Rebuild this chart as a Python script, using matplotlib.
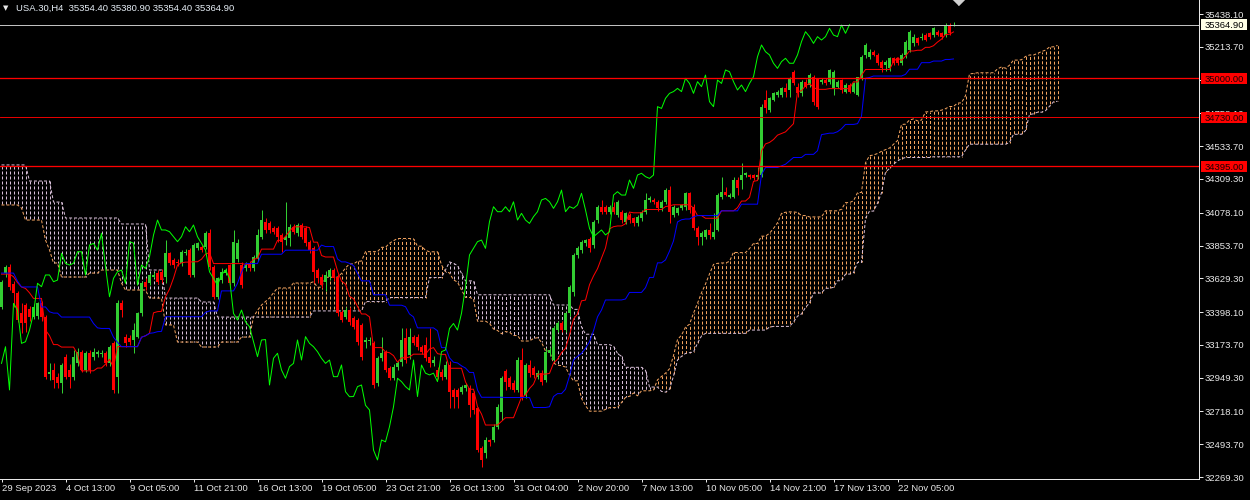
import numpy as np
import pandas as pd
import matplotlib
matplotlib.use("Agg")
import matplotlib.pyplot as plt
from matplotlib.patches import Rectangle
from matplotlib.transforms import blended_transform_factory

plt.rcParams['font.family'] = ['Liberation Sans', 'DejaVu Sans']

# USA.30 H4 candles (bar 0 = 29 Sep 2023)
opens = [
    33435, 33668, 33709, 33590, 33526, 33389, 33446, 33420, 33367, 33370,
    33458, 33367, 32975, 33002, 32956, 32911, 33093, 33002, 32956, 33047,
    33127, 33002, 33116, 33093, 33110, 33114, 33116, 33047, 33184, 32956,
    33458, 33230, 33218, 33207, 33230, 33389, 33606, 33595, 33640, 33663,
    33675, 33640, 33800, 33754, 33743, 33732, 33800, 33823, 33652, 33834,
    33846, 33846, 33937, 33709, 33503, 33617, 33663, 33720, 33595, 33760,
    33720, 33697, 33731, 33697, 33766, 33914, 34017, 34005, 33971, 33971,
    33925, 33891, 33903, 33982, 33937, 33994, 33971, 33880, 33834, 33686,
    33640, 33606, 33640, 33686, 33640, 33401, 33367, 33412, 33355, 33344,
    33310, 33195, 33200, 33184, 32911, 33082, 33127, 33013, 32945, 33025,
    33059, 33218, 33104, 33230, 33230, 33161, 33173, 33093, 33047, 33002,
    32990, 32956, 33036, 32865, 32865, 32853, 32876, 32880, 32842, 32740,
    32466, 32432, 32523, 32523, 32614, 32717, 32998, 32945, 32910, 32865,
    33070, 32830, 33036, 33013, 32956, 32980, 32930, 33116, 33070, 33275,
    33320, 33275, 33390, 33538, 33789, 33823, 33869, 33896, 33857, 34028,
    34119, 34119, 34085, 34119, 34062, 34085, 34017, 34062, 34040, 34005,
    34040, 34085, 34165, 34165, 34153, 34108, 34153, 34233, 34063, 34074,
    34108, 34120, 34211, 34120, 33971, 33914, 33914, 33960, 33914, 33960,
    34188, 34222, 34188, 34188, 34302, 34302, 34336, 34336, 34336, 34325,
    34336, 34850, 34781, 34850, 34884, 34884, 34929, 34918, 35043, 34941,
    34895, 34975, 34952, 35009, 34998, 34975, 34986, 34975, 34929, 34941,
    34986, 34907, 34952, 34907, 34884, 34998, 35158, 35146, 35180, 35158,
    35112, 35090, 35066, 35135, 35135, 35101, 35158, 35192, 35237, 35272,
    35272, 35294, 35306, 35294, 35317, 35306, 35294, 35363, 35354.4,
]
highs = [
    33620, 33720, 33730, 33610, 33540, 33458, 33458, 33440, 33450, 33470,
    33475, 33380, 33047, 33047, 32979, 33047, 33110, 33040, 33139, 33150,
    33139, 33130, 33139, 33150, 33139, 33139, 33130, 33170, 33200, 33481,
    33481, 33250, 33240, 33321, 33400, 33610, 33630, 33663, 33670, 33686,
    33690, 33890, 33810, 33770, 33760, 33820, 33830, 33835, 33870, 33880,
    33860, 33950, 33970, 33720, 33640, 33700, 33700, 33730, 33960, 33900,
    33740, 33740, 33750, 33790, 33970, 34098, 34040, 34020, 33990, 33990,
    33940, 34153, 34000, 34000, 34010, 34010, 33990, 33890, 33850, 33700,
    33660, 33680, 33700, 33700, 33660, 33410, 33430, 33430, 33370, 33360,
    33320, 33230, 33230, 33200, 33100, 33230, 33140, 33030, 33040, 33060,
    33290, 33287, 33287, 33240, 33250, 33170, 33230, 33287, 33100, 33020,
    33010, 33060, 33060, 32880, 32880, 32900, 32910, 32900, 32860, 32750,
    32480, 32540, 32530, 32630, 32770, 32960, 33010, 32960, 32930, 33090,
    33150, 33050, 33070, 33030, 33000, 33000, 33150, 33160, 33300, 33340,
    33340, 33400, 33580, 33800, 33850, 33890, 33900, 33910, 34030, 34130,
    34165, 34130, 34130, 34150, 34165, 34100, 34085, 34075, 34050, 34060,
    34100, 34210, 34190, 34180, 34165, 34165, 34250, 34260, 34130, 34120,
    34140, 34220, 34223, 34140, 33990, 33950, 33970, 34005, 34074, 34210,
    34325, 34257, 34210, 34320, 34320, 34416, 34360, 34345, 34345, 34393,
    34820, 34918, 34870, 34905, 34918, 34940, 34963, 35009, 35055, 34963,
    34985, 34990, 35035, 35020, 35000, 35000, 35000, 35065, 35055, 34985,
    34990, 34965, 34965, 34975, 35010, 35158, 35237, 35200, 35195, 35170,
    35125, 35125, 35146, 35146, 35146, 35170, 35260, 35330, 35300, 35283,
    35306, 35306, 35317, 35352, 35330, 35317, 35374, 35374, 35380.9,
]
lows = [
    33420, 33640, 33549, 33435, 33330, 33253, 33265, 33340, 33350, 33350,
    33340, 32940, 32933, 32876, 32876, 32842, 32940, 32880, 32933, 33030,
    32990, 32990, 32980, 33070, 33093, 33093, 33030, 33030, 32842, 32842,
    33367, 33161, 33170, 33116, 33220, 33370, 33550, 33580, 33630, 33590,
    33600, 33595, 33720, 33700, 33715, 33715, 33790, 33640, 33640, 33820,
    33810, 33830, 33686, 33490, 33490, 33600, 33650, 33580, 33575, 33740,
    33560, 33680, 33680, 33680, 33750, 33900, 33940, 33940, 33930, 33880,
    33810, 33860, 33850, 33930, 33920, 33900, 33850, 33800, 33600, 33600,
    33560, 33540, 33620, 33610, 33370, 33330, 33350, 33310, 33280, 33173,
    33070, 33150, 33170, 32880, 32890, 33060, 32990, 32930, 32930, 33000,
    33030, 33050, 33080, 33170, 33140, 33110, 33060, 33020, 33030, 32940,
    32930, 32940, 32740, 32740, 32740, 32840, 32860, 32680, 32700, 32440,
    32340, 32400, 32480, 32510, 32600, 32660, 32865, 32870, 32850, 32850,
    32797, 32810, 32956, 32950, 32940, 32900, 32920, 33100, 33060, 33260,
    33260, 33260, 33370, 33510, 33770, 33800, 33850, 33810, 33840, 34010,
    34070, 34070, 34070, 34070, 34050, 34010, 34000, 34010, 33990, 33990,
    34020, 34070, 34150, 34140, 34090, 34090, 34140, 34005, 34050, 34060,
    34100, 34100, 34074, 33960, 33857, 33857, 33900, 33900, 33900, 33950,
    34170, 34190, 34180, 34180, 34200, 34240, 34320, 34310, 34300, 34310,
    34320, 34760, 34770, 34840, 34870, 34870, 34870, 34870, 34952, 34870,
    34880, 34930, 34940, 34815, 34790, 34960, 34950, 34960, 34884, 34930,
    34895, 34895, 34895, 34895, 34880, 34985, 35135, 35130, 35150, 35090,
    35040, 35050, 35050, 35090, 35090, 35090, 35140, 35180, 35220, 35226,
    35260, 35250, 35270, 35283, 35290, 35270, 35283, 35294, 35354.4,
]
closes = [
    33607, 33704, 33572, 33526, 33344, 33321, 33321, 33367, 33435, 33458,
    33367, 32956, 32985, 32933, 32911, 33036, 32956, 32956, 33093, 33127,
    33002, 33116, 33002, 33127, 33122, 33118, 33047, 33161, 32865, 33458,
    33412, 33184, 33195, 33275, 33389, 33595, 33572, 33652, 33652, 33606,
    33617, 33800, 33732, 33720, 33732, 33811, 33811, 33652, 33857, 33868,
    33823, 33937, 33709, 33503, 33629, 33674, 33686, 33595, 33880, 33870,
    33583, 33720, 33697, 33777, 33925, 34028, 33960, 33960, 33948, 33914,
    33880, 33914, 33982, 33948, 33994, 33914, 33868, 33823, 33674, 33629,
    33583, 33652, 33686, 33629, 33389, 33344, 33412, 33332, 33298, 33196,
    33093, 33207, 33210, 32899, 33082, 33116, 33002, 32945, 33025, 33047,
    33207, 33070, 33230, 33184, 33161, 33127, 33082, 33047, 33070, 32956,
    32956, 33036, 32853, 32819, 32820, 32888, 32899, 32760, 32728, 32454,
    32386, 32523, 32510, 32614, 32750, 32945, 32922, 32888, 32865, 33070,
    32820, 33036, 32980, 32968, 32980, 32922, 33127, 33139, 33286, 33320,
    33275, 33390, 33572, 33789, 33834, 33880, 33891, 33834, 34017, 34119,
    34085, 34085, 34119, 34085, 34153, 34028, 34074, 34028, 34005, 34051,
    34085, 34165, 34176, 34153, 34108, 34153, 34233, 34085, 34120, 34108,
    34131, 34211, 34097, 33971, 33914, 33937, 33960, 33926, 33948, 34199,
    34222, 34199, 34199, 34302, 34245, 34336, 34348, 34325, 34313, 34336,
    34804, 34792, 34861, 34895, 34907, 34929, 34907, 34998, 34963, 34895,
    34975, 34941, 35020, 34838, 34804, 34986, 34963, 35055, 35043, 34975,
    34918, 34952, 34907, 34963, 35009, 35146, 35226, 35180, 35158, 35101,
    35066, 35112, 35135, 35101, 35101, 35158, 35249, 35317, 35283, 35237,
    35283, 35260, 35283, 35340, 35294, 35283, 35363, 35306, 35364.9,
]

# indicator values before enough history exists
tenkan_head = [33658, 33658, 33658, 33640, 33600, 33570, 33560, 33530]
kijun_head = [33665, 33665, 33665, 33665, 33610, 33570, 33570, 33570, 33570,
              33570, 33433, 33433, 33400, 33391, 33391, 33364, 33364, 33364,
              33364, 33364, 33364, 33364, 33364, 33320, 33290]
# cloud edges for the first 78 bars as (value, number of bars)
span_a_head = [(34131, 5), (34110, 1), (34028, 5), (33891, 1), (33823, 1),
               (33734, 2), (33638, 7), (33665, 3), (33686, 5), (33597, 1),
               (33549, 6), (33494, 4), (33310, 3), (33193, 6), (33159, 5),
               (33193, 5), (33227, 3), (33364, 1), (33410, 1), (33446, 1),
               (33470, 1), (33494, 1), (33530, 1), (33563, 4), (33597, 5)]
span_b_head = [(34405, 7), (34295, 6), (34151, 3), (34042, 14), (34001, 7),
               (33686, 4), (33494, 9), (33467, 4), (33364, 24)]

time_labels = ["29 Sep 2023", "4 Oct 13:00", "9 Oct 05:00", "11 Oct 21:00",
               "16 Oct 13:00", "19 Oct 05:00", "23 Oct 21:00", "26 Oct 13:00",
               "31 Oct 04:00", "2 Nov 20:00", "7 Nov 13:00", "10 Nov 05:00",
               "14 Nov 21:00", "17 Nov 13:00", "22 Nov 05:00"]
price_ticks = [35438.10, 35213.70, 34989.30, 34758.10, 34533.70, 34309.30,
               34078.10, 33853.70, 33629.30, 33398.10, 33173.70, 32949.30,
               32718.10, 32493.70, 32269.30]
levels = [35000.00, 34730.00, 34395.00]
level_widths = [1.3, 0.9, 1.3]

# ---- Ichimoku (9, 26, 52) ----
n = len(closes)
h = pd.Series(highs, dtype=float)
l = pd.Series(lows, dtype=float)
tenkan = (h.rolling(9).max() + l.rolling(9).min()) / 2
kijun = (h.rolling(26).max() + l.rolling(26).min()) / 2
tenkan.iloc[:len(tenkan_head)] = tenkan_head
kijun.iloc[:len(kijun_head)] = kijun_head
senkou_b = (h.rolling(52).max() + l.rolling(52).min()) / 2

total = n + 26
span_a = np.full(total, np.nan)
span_b = np.full(total, np.nan)
span_a[26:] = ((tenkan + kijun) / 2).values
span_b[26:] = senkou_b.values
head_a = np.repeat([v for v, k in span_a_head], [k for v, k in span_a_head])
head_b = np.repeat([v for v, k in span_b_head], [k for v, k in span_b_head])
span_a[:len(head_a)] = head_a
span_b[:len(head_b)] = head_b

# ---- figure, 1 px = 0.72 pt ----
PX = 0.72
PRICE_PX = 6.844
y_top = 35438.10 + 14 * PRICE_PX
y_bot = 35438.10 - 465 * PRICE_PX
FS = 6.8

fig = plt.figure(figsize=(12.5, 5), dpi=100, facecolor="black")
ax = fig.add_axes([0, 21 / 500, 1199 / 1250, 479 / 500], facecolor="black")
ax.set_xlim(-0.375, -0.375 + 1199 / 4)
ax.set_ylim(y_bot, y_top)

# cloud: vertical dotted hatching, phase aligned to screen rows
xs = np.arange(total)
up = span_a >= span_b
for mask, col in [(up, "#F4A460"), (~up, "#D8BFD8")]:
    lo = np.minimum(span_a, span_b)[mask]
    hi = np.maximum(span_a, span_b)[mask]
    offs = ((lo - y_bot) / PRICE_PX) % 5
    ax.vlines(xs[mask], lo, hi, colors=col, linewidth=PX,
              linestyles=[(o, (3, 2)) for o in offs], zorder=1)
ax.plot(xs, span_a, color="#F4A460", lw=PX, ls=(0, (3, 2)), zorder=1)
ax.plot(xs, span_b, color="#D8BFD8", lw=PX, ls=(0, (3, 2)), zorder=1)

# candles
x = np.arange(n)
o = np.array(opens)
c = np.array(closes)
colors = np.where(c >= o, "#32CD32", "#FF0000")
ax.vlines(x, lows, highs, colors=colors, linewidth=PX, zorder=3)
ax.bar(x, np.maximum(np.abs(c - o), PRICE_PX), bottom=np.minimum(o, c),
       width=0.62, color=colors, linewidth=0, zorder=3)

# lines
ax.plot(x, tenkan, color="#FF0000", lw=PX, zorder=4)
ax.plot(x, kijun, color="#0000FF", lw=PX, zorder=4)
ax.plot(x[:n - 26], c[26:], color="#00FF00", lw=PX, zorder=4)

for lev, w in zip(levels, level_widths):
    ax.axhline(lev, color="#FF0000", lw=w * PX, zorder=5)
ax.axhline(closes[-1], color="#C0C0C0", lw=PX, zorder=5)

# axes look
for side in ["top", "left"]:
    ax.spines[side].set_visible(False)
for side in ["bottom", "right"]:
    ax.spines[side].set_color("#E8E8E8")
    ax.spines[side].set_linewidth(PX)

ax.yaxis.tick_right()
ax.set_yticks(price_ticks)
ax.set_yticklabels([f"{p:.2f}" for p in price_ticks])
ax.tick_params(axis="y", colors="#E8E8E8", labelcolor="#E8E8E8", length=4 * PX,
               width=PX, pad=2 * PX, labelsize=FS)
ax.set_xticks(np.arange(0, 16 * len(time_labels), 16))
ax.set_xticklabels(time_labels, ha="left")
ax.tick_params(axis="x", colors="#E8E8E8", labelcolor="#E8E8E8", length=3 * PX,
               width=PX, pad=2 * PX, labelsize=FS)

# price tags on the right scale
tag_tr = blended_transform_factory(fig.transFigure, ax.transData)


def price_tag(price, face, text_color):
    ax.add_patch(Rectangle((1201 / 1250, price - 5.5 * PRICE_PX), 46 / 1250,
                           11 * PRICE_PX, transform=tag_tr, facecolor=face,
                           edgecolor="none", clip_on=False, zorder=10))
    ax.text(1205 / 1250, price, f"{price:.2f}", transform=tag_tr,
            color=text_color, fontsize=FS, ha="left", va="center_baseline",
            clip_on=False, zorder=11)


for lev in levels:
    price_tag(lev, "#FF0000", "#1A0000")
price_tag(closes[-1], "#FFFFE8", "#000000")

# header and chart-shift marker
header = (f"USA.30,H4  {opens[-1]:.2f} {highs[-1]:.2f} "
          f"{lows[-1]:.2f} {closes[-1]:.2f}")
fig.text(3 / 1250, 1 - 8 / 500, "\u25bc", color="#E8E8E8", fontsize=5,
         family="DejaVu Sans", va="center")
fig.text(16 / 1250, 1 - 8 / 500, header, color="#E8F0F8", fontsize=6.8,
         va="center")
ax.plot([239], [1 - 2 / 479], marker=[(-1, 0.5), (1, 0.5), (0, -0.5)],
        markersize=9, color="#D0D0D0",
        transform=blended_transform_factory(ax.transData, ax.transAxes),
        clip_on=False, zorder=12)

fig.savefig("out.png", dpi=100, facecolor="black")
